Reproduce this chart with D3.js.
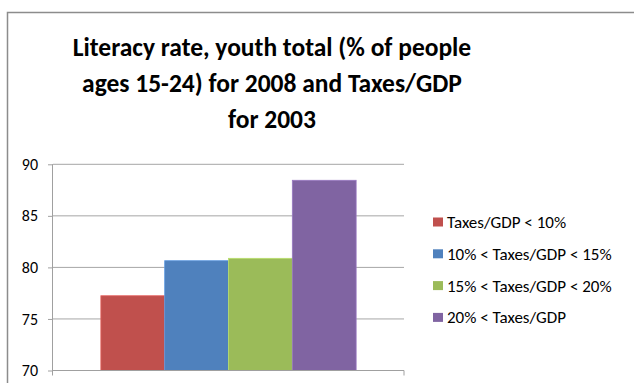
<!DOCTYPE html>
<html>
<head>
<meta charset="utf-8">
<script src="https://cdn.jsdelivr.net/npm/d3@7"></script>
<style>
  body { margin: 0; background: #fff; }
  svg { display: block; font-family: Carlito, Calibri, Lato, sans-serif; }
</style>
</head>
<body>
<svg id="chart" width="634" height="383"></svg>
<script>
// data
const titleLines = ["Literacy rate, youth total (% of people", "ages 15-24) for 2008 and Taxes/GDP", "for 2003"];
const groups = ["Taxes/GDP < 10%", "10% < Taxes/GDP < 15%", "15% < Taxes/GDP < 20%", "20% < Taxes/GDP"];
const values = [77.25, 80.65, 80.88, 88.45];
const colors = ["#C0504D", "#4F81BD", "#9BBB59", "#8064A2"];
const yTicks = [70, 75, 80, 85, 90];

const width = 634, height = 383;
const margin = { left: 53, right: 230, top: 164.3, bottom: 12.5 };

const svg = d3.select("#chart");

// outer chart border (cropped on right and bottom)
svg.append("path")
    .attr("d", `M7.5,${height + 2}V12.5H${width + 2}`)
    .attr("fill", "none")
    .attr("stroke", "#8c8c8c")
    .attr("stroke-width", 1.5);

// TITLE
svg.append("g")
    .selectAll("text")
    .data(titleLines)
    .join("text")
    .attr("x", 272)
    .attr("y", (d, i) => 56 + i * 36)
    .attr("text-anchor", "middle")
    .attr("font-size", 25.5)
    .attr("font-weight", "bold")
    .attr("fill", "#000")
    .text(d => d);

// SCALES
const x = d3.scaleBand()
    .domain(["all"])
    .range([margin.left, width - margin.right])
    .paddingInner(0)
    .paddingOuter(0);

// Excel-style: 150% gap split evenly on both sides of the cluster
const barW = x.bandwidth() / (groups.length + 1.5);
const xBar = d3.scaleBand()
    .domain(groups)
    .range([x("all") + barW * 0.75, x("all") + x.bandwidth() - barW * 0.75]);

const y = d3.scaleLinear()
    .domain([70, 90])
    .range([height - margin.bottom, margin.top]);

// GRIDLINES
svg.append("g")
    .selectAll("line")
    .data(yTicks.filter(d => d > 70))
    .join("line")
    .attr("x1", margin.left)
    .attr("x2", width - margin.right)
    .attr("y1", d => y(d))
    .attr("y2", d => y(d))
    .attr("stroke", "#a6a6a6")
    .attr("stroke-width", 1);

// BARS
svg.append("g")
    .selectAll("rect")
    .data(values)
    .join("rect")
    .attr("x", (d, i) => xBar(groups[i]))
    .attr("y", d => y(d))
    .attr("width", xBar.bandwidth())
    .attr("height", d => y(70) - y(d))
    .attr("fill", (d, i) => colors[i])
    .attr("stroke", (d, i) => d3.color(colors[i]).brighter(0.5))
    .attr("stroke-width", 0.8);

// AXES
const yAxis = svg.append("g")
    .attr("transform", `translate(${margin.left},0)`)
    .call(d3.axisLeft(y).tickValues(yTicks).tickSize(5).tickPadding(10));
yAxis.select(".domain").attr("stroke", "#a0a0a0").attr("d", `M-0.5,${y(90)}V${y(70) + 5}`);
yAxis.selectAll(".tick line").attr("stroke", "#a0a0a0");
yAxis.selectAll(".tick text")
    .attr("font-size", 16)
    .attr("font-family", "Carlito, Calibri, Lato, sans-serif")
    .attr("fill", "#000");

const xAxis = svg.append("g")
    .attr("transform", `translate(0,${y(70)})`)
    .call(d3.axisBottom(x).tickSize(0).tickFormat(""));
xAxis.select(".domain").attr("stroke", "#a0a0a0").attr("d", `M${margin.left},0H${width - margin.right}V5`);

// LEGEND
const legend = svg.append("g")
    .selectAll("g")
    .data(groups)
    .join("g")
    .attr("transform", (d, i) => `translate(433,${222 + i * 31.8})`);

legend.append("rect")
    .attr("x", 0)
    .attr("y", -4.5)
    .attr("width", 10)
    .attr("height", 9)
    .attr("fill", (d, i) => colors[i]);

legend.append("text")
    .attr("x", 14)
    .attr("y", 0)
    .attr("dy", "0.35em")
    .attr("font-size", 17)
    .attr("fill", "#000")
    .text(d => d);
</script>
</body>
</html>
